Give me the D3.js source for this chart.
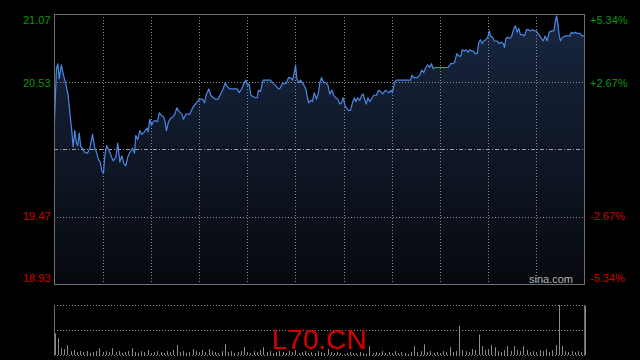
<!DOCTYPE html>
<html>
<head>
<meta charset="utf-8">
<script src="https://cdn.jsdelivr.net/npm/d3@7"></script>
<style>
  html, body { margin: 0; padding: 0; background: #000; }
  svg { display: block; }
</style>
</head>
<body>
<svg id="drawing_region"></svg>
<script>
// minutes since the open, and the traded price at that minute
const minutes = [
  0,1.2,2.1,2.9,4.2,5.6,7.0,8.5,9.5,10.6,
  11.6,12.6,13.7,14.5,15.4,16.4,17.4,18.5,20.5,22.0,
  23.7,25.1,26.1,27.4,28.5,29.5,30.5,31.3,32.4,34.1,
  35.5,36.5,38.2,39.4,40.7,41.9,43.1,44.4,45.6,47.1,
  48.6,49.8,50.6,51.9,53.1,54.4,56.0,57.5,58.3,59.3,
  60.4,61.5,62.7,64.1,65.2,66.6,67.9,68.7,69.7,71.0,
  72.4,73.9,75.2,76.1,77.6,79.3,80.3,81.8,84.2,86.4,
  88.4,90.1,92.1,93.4,94.6,96.1,97.3,98.8,100.1,101.9,
  103.4,105.0,106.3,107.5,109.1,111.3,113.8,115.0,116.4,117.9,
  119.1,120.4,121.2,122.2,123.7,125.0,126.2,127.0,128.3,129.9,
  133.1,134.5,135.7,137.4,139.5,140.7,142.0,143.2,144.5,145.7,
  146.9,148.2,149.0,150.1,150.9,152.1,153.2,154.2,155.3,156.5,
  157.5,158.3,159.4,160.6,161.7,163.1,164.2,165.2,166.2,167.7,
  168.9,170.2,171.4,172.7,173.9,175.1,176.4,177.6,178.7,179.8,
  180.8,181.8,183.1,184.3,185.5,186.8,187.6,188.8,190.1,191.3,
  192.2,193.0,194.1,195.1,196.3,197.8,198.8,200.5,201.7,203.0,
  204.4,205.9,207.1,208.4,209.6,210.4,211.7,212.9,221.7,222.5,
  223.7,225.8,227.4,228.7,229.9,231.2,232.4,233.7,234.7,235.8,
  236.8,245.1,246.6,247.9,249.1,250.5,251.7,253.0,253.8,255.1,
  256.3,257.6,258.4,259.7,260.9,261.8,263.2,264.2,265.2,266.3,
  267.3,268.5,269.8,270.7,271.5,272.7,274.0,275.6,276.9,278.1,
  279.4,280.2,281.0,282.2,283.5,284.7,286.0,287.0,288.1,289.1,
  290.1,291.4,292.6,293.9,295.1,296.4,297.6,298.9,300.1,300.9,
  302.2,303.2,304.3,305.5,306.8,308.0,309.7,310.9,311.8,312.6,
  313.4,314.2,315.0,316.3,318.0,320.9,321.8,323.0,324.3,325.5,
  327.1,328.4,330
];
const prices = [
  20.22,20.64,20.68,20.56,20.67,20.59,20.52,20.43,20.30,20.17,
  20.02,20.15,20.05,20.03,20.13,20.02,20.01,19.98,19.97,20.01,
  20.12,20.01,19.98,19.92,19.90,19.83,19.81,19.95,20.03,19.99,
  19.94,19.91,19.94,20.05,19.90,19.95,19.89,19.87,19.94,19.98,
  20.01,19.97,20.11,20.08,20.15,20.12,20.14,20.17,20.14,20.24,
  20.19,20.22,20.23,20.22,20.29,20.27,20.26,20.23,20.15,20.22,
  20.25,20.26,20.29,20.33,20.30,20.28,20.24,20.28,20.28,20.34,
  20.37,20.40,20.40,20.37,20.44,20.48,20.43,20.41,20.40,20.40,
  20.44,20.48,20.53,20.50,20.48,20.48,20.48,20.45,20.48,20.52,
  20.55,20.51,20.52,20.43,20.42,20.41,20.41,20.47,20.46,20.55,
  20.55,20.55,20.53,20.51,20.48,20.49,20.53,20.52,20.53,20.57,
  20.57,20.55,20.59,20.67,20.56,20.53,20.55,20.53,20.51,20.48,
  20.41,20.37,20.39,20.38,20.45,20.40,20.44,20.53,20.57,20.53,
  20.53,20.51,20.44,20.47,20.43,20.41,20.40,20.36,20.37,20.41,
  20.35,20.33,20.31,20.31,20.37,20.41,20.38,20.41,20.39,20.43,
  20.44,20.40,20.36,20.41,20.38,20.41,20.43,20.43,20.47,20.46,
  20.44,20.47,20.46,20.45,20.47,20.45,20.53,20.55,20.55,20.59,
  20.57,20.57,20.59,20.63,20.61,20.65,20.67,20.65,20.68,20.64,
  20.65,20.65,20.68,20.68,20.69,20.76,20.74,20.74,20.79,20.78,
  20.79,20.77,20.79,20.78,20.78,20.76,20.76,20.85,20.87,20.84,
  20.86,20.87,20.89,20.94,20.90,20.89,20.86,20.86,20.84,20.85,
  20.84,20.81,20.88,20.89,20.88,20.90,20.96,20.98,20.93,20.96,
  20.91,20.91,20.90,20.95,20.95,20.94,20.95,20.94,20.94,20.92,
  20.90,20.88,20.86,20.90,20.86,20.93,20.94,20.94,21.01,21.06,
  21.00,20.91,20.86,20.89,20.90,20.90,20.93,20.92,20.93,20.92,
  20.92,20.90,20.90
];
// volume, one bar every 2 minutes
const volStep = 2;
const volumes = [
  22,17,7,6,10,4,5,3,4,3, 4,2,3,4,7,3,4,3,7,3,
  4,2,3,4,7,3,2,4,3,5, 2,3,4,3,2,4,3,5,10,3,
  4,2,3,6,4,3,5,3,6,4, 3,2,4,11,3,4,2,3,4,8,
  3,2,4,3,5,8,3,4,2,3, 4,3,2,4,3,5,2,3,4,2,
  3,2,4,3,2,6,3,2,3,2, 1,2,3,2,2,3,2,1,9,2,
  3,2,4,2,3,2,4,2,3,2, 1,3,9,3,4,11,3,4,2,3,
  2,4,3,8,3,4,30,5,4,3, 6,5,21,9,5,6,10,8,4,3,
  5,9,4,9,5,4,9,5,3,4, 3,5,4,6,3,5,10,51,9,4,
  3,4,3,4,3,50
];

const priceTicks = [21.07, 20.53, 19.47, 18.93];
const pctLabels = ["+5.34%", "+2.67%", "-2.67%", "-5.34%"];
const prevClose = 20.00;
const sessionLength = 330;
const gridEvery = 30;
const symbol = "L70.CN";
const source = "sina.com";

class MinuteChart {
    constructor( config ) {
        this.config = config;
        this.data = minutes.map( (m, i) => ({ t: m, p: prices[i] }) );
        this.vol = volumes.map( (v, i) => ({ t: i * volStep, v: v }) );
        this.init();
    }

    init() {
        let self = this;
        let c = self.config;

        self.svg = d3.select( c.parent )
            .attr('width', c.width)
            .attr('height', c.height)
            .style('background', '#000');

        self.xscale = d3.scaleLinear()
            .domain([0, sessionLength])
            .range([c.left + 0.5, c.right + 0.5]);

        self.yscale = d3.scaleLinear()
            .domain([d3.min(priceTicks), d3.max(priceTicks)])
            .range([c.bottom + 0.5, c.top + 0.5]);

        self.vscale = d3.scaleLinear()
            .domain([0, d3.max(volumes)])
            .range([c.volBottom, c.volTop]);

        let grad = self.svg.append('defs').append('linearGradient')
            .attr('id', 'fill')
            .attr('gradientUnits', 'userSpaceOnUse')
            .attr('x1', 0).attr('x2', 0)
            .attr('y1', c.top).attr('y2', c.bottom);
        grad.append('stop').attr('offset', '0%').attr('stop-color', '#182640');
        grad.append('stop').attr('offset', '100%').attr('stop-color', '#07090e');
    }

    render() {
        let self = this;
        let c = self.config;
        let x = self.xscale, y = self.yscale;

        // area + line
        const area = d3.area()
            .x( d => x(d.t) )
            .y0( c.bottom + 0.5 )
            .y1( d => y(d.p) );
        const line = d3.line()
            .x( d => x(d.t) )
            .y( d => y(d.p) );

        self.svg.append('path')
            .datum(self.data)
            .attr('d', area)
            .attr('fill', 'url(#fill)');

        // grid: quarter levels of the price range, middle one is prev close
        const lo = d3.min(priceTicks), hi = d3.max(priceTicks);
        const quarters = [1, 3].map( k => lo + (hi - lo) * k / 4 );
        self.svg.selectAll('line.hgrid')
            .data(quarters)
            .join('line')
            .attr('class', 'hgrid')
            .attr('x1', c.left).attr('x2', c.right)
            .attr('y1', d => Math.floor(y(d)) + 0.5)
            .attr('y2', d => Math.floor(y(d)) + 0.5)
            .attr('stroke', '#8a8a8a')
            .attr('stroke-dasharray', '1,2');

        self.svg.selectAll('line.vgrid')
            .data(d3.range(gridEvery, sessionLength, gridEvery))
            .join('line')
            .attr('class', 'vgrid')
            .attr('x1', d => Math.round(x(d)) + 0.5)
            .attr('x2', d => Math.round(x(d)) + 0.5)
            .attr('y1', c.top).attr('y2', c.bottom)
            .attr('stroke', '#8a8a8a')
            .attr('stroke-dasharray', '1,2');

        self.svg.append('line')
            .attr('x1', c.left).attr('x2', c.right)
            .attr('y1', Math.floor(y(prevClose)) + 0.5)
            .attr('y2', Math.floor(y(prevClose)) + 0.5)
            .attr('stroke', '#a0a0a0')
            .attr('stroke-dasharray', '4,2,1,2');

        self.svg.append('path')
            .datum(self.data)
            .attr('d', line)
            .attr('fill', 'none')
            .attr('stroke', '#4a88e6')
            .attr('stroke-width', 1.2)
            .attr('stroke-linejoin', 'round');

        self.svg.append('rect')
            .attr('x', c.left + 0.5).attr('y', c.top + 0.5)
            .attr('width', c.right - c.left).attr('height', c.bottom - c.top)
            .attr('fill', 'none')
            .attr('stroke', '#6e6e6e');

        // price labels
        const col = v => v > prevClose ? '#0b9a0b' : '#d40000';
        const ly = v => Math.max(c.top + 6, Math.min(c.bottom - 6, y(v)));

        self.svg.selectAll('text.price')
            .data(priceTicks)
            .join('text')
            .attr('class', 'price')
            .attr('x', c.left - 3.5)
            .attr('y', d => ly(d))
            .attr('dy', '0.36em')
            .attr('text-anchor', 'end')
            .attr('fill', d => col(d))
            .style('font', '11px Arial, "Liberation Sans", sans-serif')
            .text(d => d.toFixed(2));

        self.svg.selectAll('text.pct')
            .data(priceTicks)
            .join('text')
            .attr('class', 'pct')
            .attr('x', c.right + 6)
            .attr('y', d => ly(d))
            .attr('dy', '0.36em')
            .attr('text-anchor', 'start')
            .attr('fill', d => col(d))
            .style('font', '11px Arial, "Liberation Sans", sans-serif')
            .text((d, i) => pctLabels[i]);

        self.svg.append('text')
            .attr('x', c.right - 11)
            .attr('y', c.bottom - 1)
            .attr('text-anchor', 'end')
            .attr('fill', '#b4b4b4')
            .style('font', '11px Arial, "Liberation Sans", sans-serif')
            .text(source);

        // volume panel
        [c.volTop, (c.volTop + c.volBottom) / 2, c.volBottom].forEach( v => {
            self.svg.append('line')
                .attr('x1', c.left).attr('x2', c.right)
                .attr('y1', v + 0.5).attr('y2', v + 0.5)
                .attr('stroke', '#8a8a8a')
                .attr('stroke-dasharray', '1,2');
        });

        self.svg.selectAll('line.vol')
            .data(self.vol)
            .join('line')
            .attr('class', 'vol')
            .attr('x1', d => Math.round(x(d.t)) + 0.5)
            .attr('x2', d => Math.round(x(d.t)) + 0.5)
            .attr('y1', c.volBottom)
            .attr('y2', d => self.vscale(d.v))
            .attr('stroke', '#8c8c8c');

        [c.left, c.right].forEach( e => {
            self.svg.append('line')
                .attr('x1', e + 0.5).attr('x2', e + 0.5)
                .attr('y1', c.volTop).attr('y2', c.volBottom + 1)
                .attr('stroke', '#6e6e6e');
        });

        self.svg.append('text')
            .attr('x', (c.left + c.right) / 2)
            .attr('y', c.volBottom - 6)
            .attr('text-anchor', 'middle')
            .attr('fill', '#d40000')
            .style('font', '28px Arial, "Liberation Sans", sans-serif')
            .text(symbol);
    }
}

const chart = new MinuteChart({
    parent: '#drawing_region',
    width: 640, height: 360,
    left: 54, right: 584, top: 14, bottom: 284,
    volTop: 305, volBottom: 355
});
chart.render();
</script>
</body>
</html>
